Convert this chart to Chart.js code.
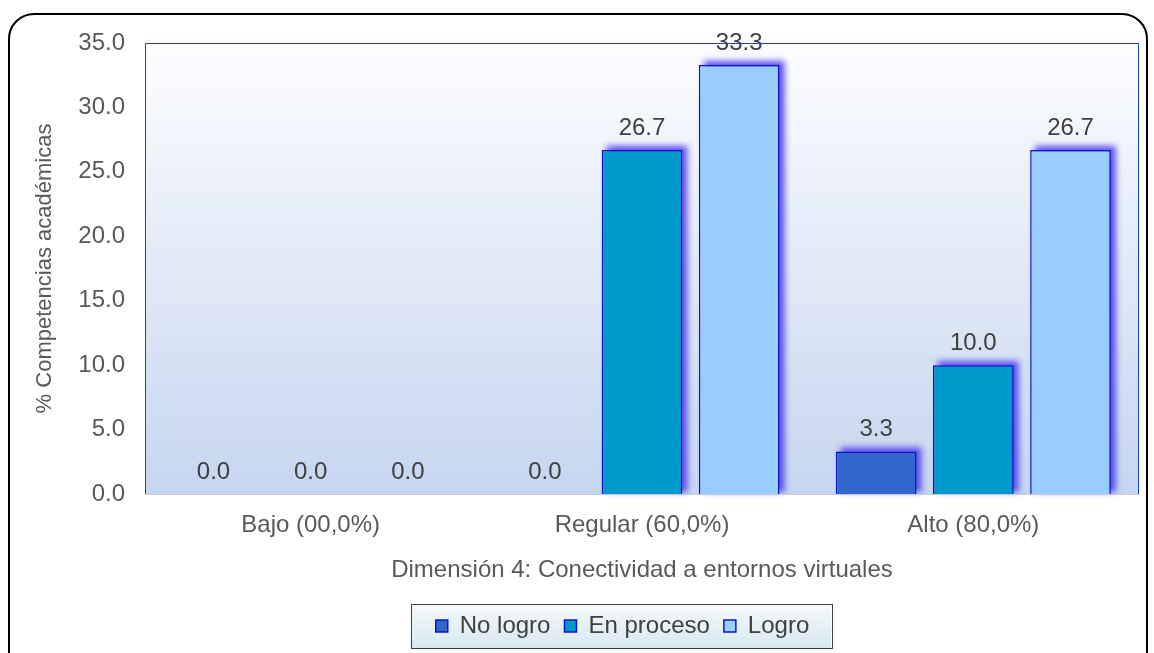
<!DOCTYPE html>
<html>
<head>
<meta charset="utf-8">
<script src="https://cdn.jsdelivr.net/npm/chart.js@4.4.1/dist/chart.umd.min.js"></script>
<style>
  html, body { margin: 0; padding: 0; background: #fff; overflow: hidden; }
  #wrap { position: relative; width: 1154px; height: 653px; }
  #frame {
    position: absolute; left: 8px; top: 13px; width: 1140px; height: 700px;
    border: 2px solid #000; border-radius: 26px; box-sizing: border-box;
  }
  canvas { position: absolute; left: 0; top: 0; }
</style>
</head>
<body>
<div id="wrap">
  <div id="frame"></div>
  <canvas id="chart" width="1154" height="653"></canvas>
</div>
<script>
const categories = ["Bajo (00,0%)", "Regular (60,0%)", "Alto (80,0%)"];
const seriesNames = ["No logro", "En proceso", "Logro"];
const noLogro = [0.0, 0.0, 3.3];
const enProceso = [0.0, 26.7, 10.0];
const logro = [0.0, 33.3, 26.7];
const yTicks = [0, 5, 10, 15, 20, 25, 30, 35];

const colors = ["#3366cc", "#0099cc", "#99ccff"];
const FONT = "'Liberation Sans', Arial, sans-serif";

/* plot background + border */
const plotBg = {
  id: "plotBg",
  beforeDraw(chart) {
    const { ctx, chartArea: a } = chart;
    const g = ctx.createLinearGradient(0, a.top, 0, a.bottom);
    g.addColorStop(0, "#fdfdff");
    g.addColorStop(1, "#c5d6ef");
    ctx.save();
    ctx.fillStyle = g;
    ctx.fillRect(a.left, a.top, a.right - a.left, a.bottom - a.top);
    ctx.restore();
  },
  afterDraw(chart) {
    const { ctx, chartArea: a } = chart;
    ctx.save();
    ctx.strokeStyle = "#1a3fd0";
    ctx.lineWidth = 1;
    ctx.beginPath();
    ctx.moveTo(a.left + 0.5, a.bottom);
    ctx.lineTo(a.left + 0.5, a.top + 0.5);
    ctx.lineTo(a.right - 0.5, a.top + 0.5);
    ctx.lineTo(a.right - 0.5, a.bottom);
    ctx.stroke();
    ctx.strokeStyle = "#c8ccd8";
    ctx.beginPath();
    ctx.moveTo(a.left, a.bottom + 0.5);
    ctx.lineTo(a.right, a.bottom + 0.5);
    ctx.stroke();
    ctx.restore();
  }
};

/* glow behind bars, value labels above */
const barShadow = {
  id: "barShadow",
  beforeDatasetsDraw(chart) {
    const ctx = chart.ctx;
    ctx.save();
    ctx.filter = "blur(3px)";
    ctx.fillStyle = "rgba(70,50,235,0.85)";
    chart.data.datasets.forEach((ds, i) => {
      chart.getDatasetMeta(i).data.forEach(bar => {
        const h = bar.base - bar.y;
        if (h < 1) return;
        ctx.fillRect(bar.x - bar.width / 2 + 5, bar.y - 4, bar.width, h + 2);
      });
    });
    ctx.restore();
  },
  afterDatasetsDraw(chart) {
    const ctx = chart.ctx;
    ctx.save();
    ctx.fillStyle = "#404040";
    ctx.font = "24px " + FONT;
    ctx.textAlign = "center";
    ctx.textBaseline = "alphabetic";
    chart.data.datasets.forEach((ds, i) => {
      chart.getDatasetMeta(i).data.forEach((bar, j) => {
        ctx.fillText(ds.data[j].toFixed(1), bar.x, bar.y - 15);
      });
    });
    ctx.restore();
  }
};

/* legend sits a bit right of centre, with a box round it */
const LEGEND_SHIFT = 53;
const legendBox = {
  id: "legendBox",
  beforeDraw(chart) {
    const lg = chart.legend;
    if (lg._shifted) return;
    lg._shifted = true;
    lg.left += LEGEND_SHIFT;
    lg.right += LEGEND_SHIFT;
    lg.legendHitBoxes.forEach(b => { b.left += LEGEND_SHIFT; });
  },
  afterDraw(chart) {
    const boxes = chart.legend.legendHitBoxes;
    if (!boxes || !boxes.length) return;
    const l = Math.min(...boxes.map(b => b.left)) - 25;
    const r = Math.max(...boxes.map(b => b.left + b.width)) + 22;
    const cy = boxes[0].top + boxes[0].height / 2;
    const t = cy - 22;
    const bt = cy + 22;
    const ctx = chart.ctx;
    ctx.save();
    const g = ctx.createLinearGradient(0, t, 0, bt);
    g.addColorStop(0, "#f5f9fc");
    g.addColorStop(1, "#d8e8f0");
    ctx.globalCompositeOperation = "destination-over";
    ctx.fillStyle = g;
    ctx.fillRect(l, t, r - l, bt - t);
    ctx.globalCompositeOperation = "source-over";
    ctx.strokeStyle = "#404040";
    ctx.lineWidth = 1;
    ctx.strokeRect(Math.round(l) + 0.5, Math.round(t) + 0.5, Math.round(r - l), Math.round(bt - t));
    ctx.restore();
  }
};

const dataSets = [noLogro, enProceso, logro].map((vals, i) => ({
  label: seriesNames[i],
  data: vals,
  backgroundColor: colors[i],
  borderColor: "#0a14c8",
  borderWidth: 1.5,
  borderSkipped: "bottom",
  categoryPercentage: 0.88,
  barPercentage: 0.83,
  clip: false
}));

new Chart(document.getElementById("chart"), {
  type: "bar",
  data: { labels: categories, datasets: dataSets },
  options: {
    responsive: false,
    animation: false,
    devicePixelRatio: 1,
    layout: { padding: { left: 0, top: 43, right: 15, bottom: 5 } },
    scales: {
      x: {
        grid: { display: false },
        border: { display: false },
        ticks: { color: "#595959", font: { family: FONT, size: 24 }, padding: 9 },
        title: {
          display: true,
          text: "Dimensión 4: Conectividad a entornos virtuales",
          color: "#595959",
          font: { family: FONT, size: 24 },
          padding: { top: 10, bottom: 15 }
        },
        afterFit(scale) { scale.height = 106; }
      },
      y: {
        min: 0,
        max: 35,
        grid: { display: false },
        border: { display: false },
        afterBuildTicks(scale) { scale.ticks = yTicks.map(v => ({ value: v })); },
        ticks: {
          color: "#595959",
          font: { family: FONT, size: 24 },
          padding: 12,
          callback: v => Number(v).toFixed(1)
        },
        title: {
          display: true,
          text: "% Competencias académicas",
          color: "#595959",
          font: { family: FONT, size: 22 },
          padding: { top: 32, bottom: 0 }
        },
        afterFit(scale) { scale.width = 145; }
      }
    },
    plugins: {
      legend: {
        position: "bottom",
        labels: {
          color: "#404040",
          font: { family: FONT, size: 24 },
          boxWidth: 12,
          boxHeight: 12,
          padding: 14,
          generateLabels(chart) {
            return chart.data.datasets.map((ds, i) => ({
              text: ds.label,
              fillStyle: ds.backgroundColor,
              strokeStyle: "#0a14c8",
              lineWidth: 1.5,
              fontColor: "#404040",
              datasetIndex: i
            }));
          }
        }
      },
      tooltip: { enabled: false }
    }
  },
  plugins: [plotBg, barShadow, legendBox]
});
</script>
</body>
</html>
